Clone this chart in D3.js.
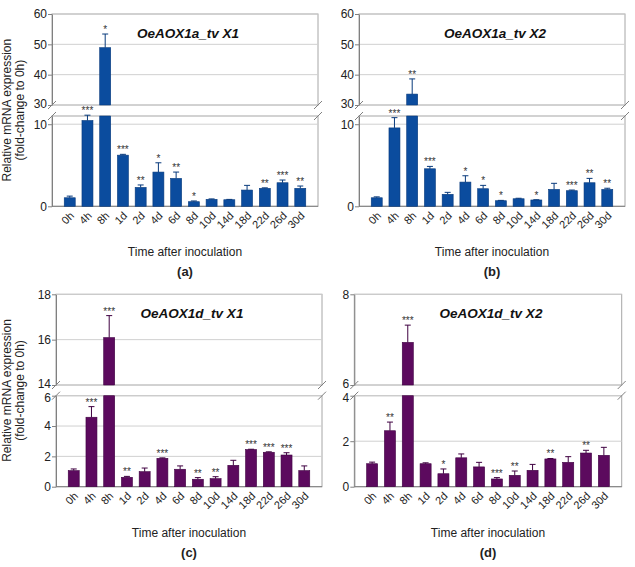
<!DOCTYPE html>
<html><head><meta charset="utf-8">
<script src="https://cdn.jsdelivr.net/npm/d3@7/dist/d3.min.js"></script>
<style>body{margin:0;background:#fff}svg{display:block;font-family:Arial,"Liberation Sans",sans-serif}</style>
</head><body>
<svg id="chart" width="635" height="567"></svg>
<script>
const categories = ["0h","4h","8h","1d","2d","4d","6d","8d","10d","14d","18d","22d","26d","30d"];

const a_values = [1.04,10.45,48.9,6.23,2.3,4.17,3.4,0.56,0.85,0.8,1.98,2.19,2.87,2.19];
const a_errors = [0.2,0.65,4.5,0.1,0.3,1.13,0.77,0.09,0.05,0.04,0.57,0.06,0.33,0.28];
const a_sig    = ["","***","*","***","**","*","**","*","","","","**","***","**"];

const b_values = [1.04,9.55,33.6,4.57,1.46,2.95,2.14,0.68,0.92,0.77,2.06,1.9,2.87,2.06];
const b_errors = [0.11,1.25,5.0,0.29,0.24,0.77,0.41,0.04,0.06,0.03,0.74,0.08,0.53,0.14];
const b_sig    = ["","***","**","***","","*","*","*","","*","","***","**","**"];

const c_values = [1.06,4.58,16.09,0.62,0.99,1.87,1.15,0.49,0.53,1.41,2.45,2.27,2.09,1.06];
const c_errors = [0.11,0.7,0.97,0.06,0.24,0.03,0.22,0.11,0.13,0.33,0.02,0.03,0.15,0.31];
const c_sig    = ["","***","***","**","","***","","**","**","","***","***","***",""];

const d_values = [1.01,2.46,6.94,1.01,0.57,1.27,0.87,0.34,0.5,0.72,1.22,1.07,1.48,1.38];
const d_errors = [0.07,0.38,0.38,0.04,0.21,0.17,0.2,0.06,0.19,0.26,0.02,0.25,0.12,0.35];
const d_sig    = ["","**","***","","*","","","***","**","","**","","**",""];

const titles = ["OeAOX1a_tv X1","OeAOX1a_tv X2","OeAOX1d_tv X1","OeAOX1d_tv X2"];
const panelLetters = ["(a)","(b)","(c)","(d)"];
const upperTicks = [[30,40,50,60],[30,40,50,60],[14,16,18],[6,8]];
const lowerTicks = [[0,10],[0,10],[0,2,4,6],[0,2,4]];
const upperDomains = [[30,60],[30,60],[14,18],[6,8]];
const lowerDomains = [[0,11],[0,11],[0,6],[0,4]];

const svg = d3.select("#chart");
const blue = {fill:"#0b4c9e", stroke:"#083a7c"};
const purple = {fill:"#5c0a5e", stroke:"#3f0041"};

const panels = [
  {vals:a_values, errs:a_errors, sig:a_sig, L:52, R:318, uT:14, uB:105, lT:116, lB:206.3, col:blue, ytitle:true},
  {vals:b_values, errs:b_errors, sig:b_sig, L:359, R:625, uT:14, uB:105, lT:116, lB:206.3, col:blue, ytitle:false},
  {vals:c_values, errs:c_errors, sig:c_sig, L:56, R:322, uT:294.3, uB:385, lT:395.7, lB:486.7, col:purple, ytitle:true},
  {vals:d_values, errs:d_errors, sig:d_sig, L:354.3, R:621.7, uT:294.3, uB:385, lT:395.7, lB:486.7, col:purple, ytitle:false}
];

panels.forEach((p, i) => {
  const g = svg.append("g");
  const x = d3.scaleBand().domain(categories).range([p.L, p.R]).paddingInner(0.38).paddingOuter(0.69);
  const yU = d3.scaleLinear().domain(upperDomains[i]).range([p.uB, p.uT]);
  const yL = d3.scaleLinear().domain(lowerDomains[i]).range([p.lB, p.lT]);

  // frames
  [[p.uT,p.uB],[p.lT,p.lB]].forEach(([t,b]) => {
    g.append("rect").attr("x",p.L).attr("y",t).attr("width",p.R-p.L).attr("height",b-t)
      .attr("fill","none").attr("stroke","#a6a6a6").attr("stroke-width",1);
  });
  // gridlines
  upperTicks[i].forEach(v => { g.append("line").attr("x1",p.L).attr("x2",p.R).attr("y1",yU(v)).attr("y2",yU(v)).attr("stroke","#d0d0d0"); });
  lowerTicks[i].forEach(v => { if (v>0) g.append("line").attr("x1",p.L).attr("x2",p.R).attr("y1",yL(v)).attr("y2",yL(v)).attr("stroke","#d0d0d0"); });

  // axes
  const fmt = d3.format("d");
  const axU = d3.axisLeft(yU).tickValues(upperTicks[i]).tickFormat(fmt).tickSize(4).tickSizeOuter(0);
  const axL = d3.axisLeft(yL).tickValues(lowerTicks[i]).tickFormat(fmt).tickSize(4).tickSizeOuter(0);
  [[axU,-1.5],[axL,1.5]].forEach(([ax, nudge]) => {
    const a = g.append("g").attr("transform",`translate(${p.L},0)`).call(ax);
    a.select(".domain").attr("stroke","#808080");
    a.selectAll(".tick line").attr("stroke","#808080");
    const sc = ax.scale();
    const d0 = sc.domain();
    a.selectAll(".tick text").attr("font-size","12px").attr("fill","#222").attr("x",-5)
      .attr("y", d => (nudge < 0 && d === d0[0]) ? -1.5 : ((nudge > 0 && d === d0[1]) ? 1.5 : 0));
  });
  g.append("line").attr("x1",p.L).attr("x2",p.R).attr("y1",p.lB).attr("y2",p.lB).attr("stroke","#808080");

  // x axis labels
  categories.forEach(c => {
    g.append("text").attr("transform",`translate(${x(c)+x.bandwidth()/2+5},${p.lB+10}) rotate(-45)`)
      .attr("text-anchor","end").attr("font-size","11px").attr("fill","#222").text(c);
  });

  // break marks
  [p.L, p.R].forEach(xx => {
    [p.uB, p.lT].forEach(yy => {
      g.append("line").attr("x1",xx-4).attr("y1",yy+4).attr("x2",xx+4).attr("y2",yy-4)
        .attr("stroke","#808080").attr("stroke-width",1);
    });
  });

  // bars
  const lowMax = lowerDomains[i][1];
  p.vals.forEach((v, k) => {
    const c = categories[k];
    const bx = x(c), bw = x.bandwidth(), cx = bx + bw/2;
    const err = p.errs[k];
    const top = v + err;
    if (v > lowMax) {
      g.append("rect").attr("x",bx).attr("y",yL(lowMax)).attr("width",bw).attr("height",yL(0)-yL(lowMax))
        .attr("fill",p.col.fill).attr("stroke",p.col.stroke).attr("stroke-width",0.6);
      g.append("rect").attr("x",bx).attr("y",yU(v)).attr("width",bw).attr("height",yU(upperDomains[i][0])-yU(v))
        .attr("fill",p.col.fill).attr("stroke",p.col.stroke).attr("stroke-width",0.6);
      g.append("line").attr("x1",cx).attr("x2",cx).attr("y1",yU(v)).attr("y2",yU(top)).attr("stroke",p.col.stroke).attr("stroke-width",1);
      g.append("line").attr("x1",cx-3).attr("x2",cx+3).attr("y1",yU(top)).attr("y2",yU(top)).attr("stroke",p.col.stroke).attr("stroke-width",1);
      g.append("text").attr("x",cx).attr("y",yU(top)-1).attr("text-anchor","middle").attr("font-size","10px").attr("fill","#333").text(p.sig[k]);
    } else {
      g.append("rect").attr("x",bx).attr("y",yL(v)).attr("width",bw).attr("height",yL(0)-yL(v))
        .attr("fill",p.col.fill).attr("stroke",p.col.stroke).attr("stroke-width",0.6);
      g.append("line").attr("x1",cx).attr("x2",cx).attr("y1",yL(v)).attr("y2",yL(top)).attr("stroke",p.col.stroke).attr("stroke-width",1);
      g.append("line").attr("x1",cx-3).attr("x2",cx+3).attr("y1",yL(top)).attr("y2",yL(top)).attr("stroke",p.col.stroke).attr("stroke-width",1);
      g.append("text").attr("x",cx).attr("y",yL(top)-1).attr("text-anchor","middle").attr("font-size","10px").attr("fill","#333").text(p.sig[k]);
    }
  });

  // title
  g.append("text").attr("x",(p.L+p.R)/2+3).attr("y",p.uT+24).attr("text-anchor","middle")
    .attr("font-size","13.5px").attr("font-weight","bold").attr("font-style","italic").attr("fill","#111").text(titles[i]);

  // x title
  const midX = (p.L+p.R)/2;
  g.append("text").attr("x",midX).attr("y",p.lB+50).attr("text-anchor","middle").attr("font-size","12px").attr("fill","#222").text("Time after inoculation");
  g.append("text").attr("x",midX).attr("y",p.lB+70).attr("text-anchor","middle").attr("font-size","13px").attr("font-weight","bold").attr("fill","#222").text(panelLetters[i]);

  if (p.ytitle) {
    const cy = (p.uT + p.lB)/2;
    g.append("text").attr("transform",`translate(10.5,${cy}) rotate(-90)`).attr("text-anchor","middle").attr("font-size","12px").attr("fill","#222").text("Relative mRNA expression");
    g.append("text").attr("transform",`translate(23.5,${cy}) rotate(-90)`).attr("text-anchor","middle").attr("font-size","12px").attr("fill","#222").text("(fold-change to 0h)");
  }
});
</script>
</body></html>
